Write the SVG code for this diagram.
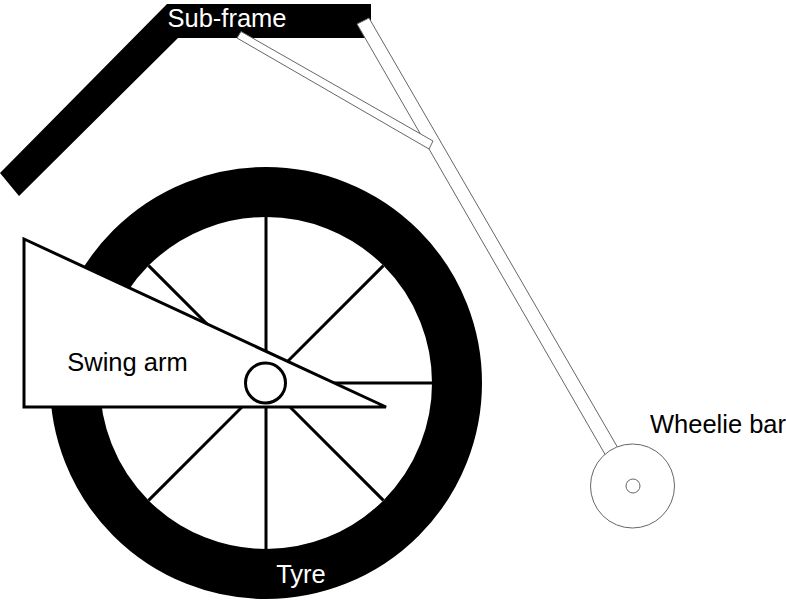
<svg xmlns="http://www.w3.org/2000/svg" width="786" height="600" viewBox="0 0 786 600">
<style>
.t{font-family:"Liberation Sans",Arial,sans-serif;font-size:25.500px}
.thin{fill:#fff;stroke:#666;stroke-width:1}
.k{stroke:#000;stroke-width:3;fill:none}
</style>
<rect width="786" height="600" fill="#fff"/>
<g id="tyre">
<circle cx="266" cy="383" r="191" fill="#fff" stroke="#000" stroke-width="50"/>
<path class="k" d="M266 217V549M100 383H432M148.600 265.600L383.400 500.400M383.400 265.600L148.600 500.400"/>
<text class="t" x="301" y="583" text-anchor="middle" fill="#fff">Tyre</text>
</g>
<g id="sub-frame">
<polygon points="0,173 167,4 371,4 371,38 178,38 19,196" fill="#000"/>
<text class="t" x="227" y="27" text-anchor="middle" fill="#fff">Sub-frame</text>
</g>
<g id="swing-arm">
<polygon points="24,239 24,407 386,407" fill="#fff" stroke="#000" stroke-width="3"/>
<circle cx="265.500" cy="383" r="20" fill="#fff" stroke="#000" stroke-width="3"/>
<text class="t" x="127.500" y="371" text-anchor="middle" fill="#000">Swing arm</text>
</g>
<g id="wheelie-bar">
<polygon class="thin" points="369,18 357,24 610,463 622,455"/>
<polygon class="thin" points="241,31.500 433,141 429,149 237,38"/>
<circle class="thin" cx="632.500" cy="486" r="42"/>
<circle class="thin" cx="633" cy="486" r="7"/>
<text class="t" x="718" y="433" text-anchor="middle" fill="#000">Wheelie bar</text>
</g>
</svg>
